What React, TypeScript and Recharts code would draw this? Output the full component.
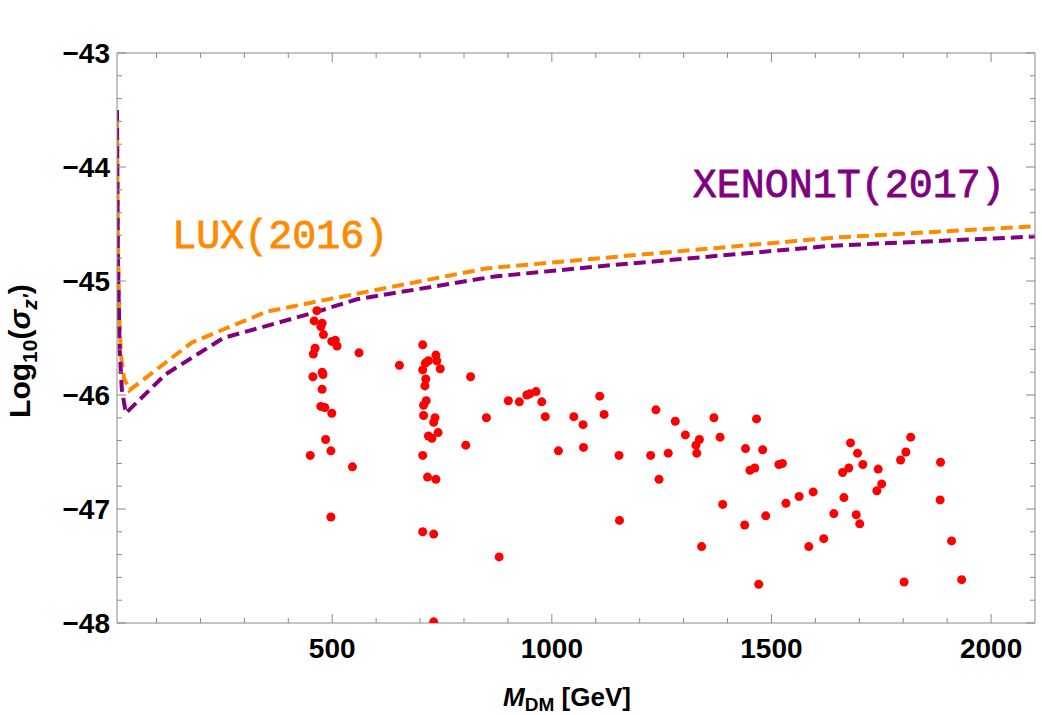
import React from 'react';
import { ComposedChart, Line, Scatter, XAxis, YAxis, Label, ReferenceDot } from 'recharts';

// LUX (2016) exclusion curve
const luxMass = [10, 12, 15, 19, 26, 38, 180, 350, 465, 850, 1110, 1640, 2100];
const luxSigma = [-43.6, -44.6, -45.3, -45.65, -45.85, -45.96, -45.54, -45.27, -45.18, -44.89, -44.8, -44.62, -44.52];

// XENON1T (2017) exclusion curve
const xenonMass = [10, 12, 16, 21, 30, 120, 252, 465, 556, 870, 1110, 1640, 2100];
const xenonSigma = [-43.5, -44.8, -45.6, -45.95, -46.16, -45.82, -45.5, -45.27, -45.16, -44.96, -44.87, -44.69, -44.61];

// scan points
const scanMass = [
  465, 459, 477, 474, 480, 499, 507, 511, 461, 457, 561, 477, 479, 456, 477, 474, 483, 499, 485, 497,
  450, 546, 497, 706, 736, 738, 719, 712, 746, 706, 713, 711, 653, 815, 714, 708, 708, 734, 731, 741,
  719, 727, 706, 804, 851, 717, 736, 706, 731, 880, 731, 901, 926, 943, 950, 964, 977, 985, 1015, 1050,
  1071, 1072, 1109, 1119, 1153, 1154, 1225, 1237, 1244, 1265, 1281, 1304, 1328, 1336, 1330, 1341, 1369, 1383, 1389, 1441,
  1466, 1451, 1462, 1439, 1471, 1480, 1487, 1517, 1525, 1533, 1563, 1595, 1585, 1619, 1642, 1662, 1676, 1665, 1680, 1696,
  1708, 1693, 1701, 1743, 1751, 1740, 1794, 1806, 1817, 1802, 1885, 1884, 1910, 1933,
];
const scanSigma = [
  -45.26, -45.35, -45.37, -45.4, -45.47, -45.53, -45.52, -45.57, -45.59, -45.64, -45.63, -45.8, -45.82, -45.84, -45.95, -46.1, -46.11, -46.16, -46.39, -46.49,
  -46.53, -46.63, -47.07, -45.56, -45.65, -45.7, -45.7, -45.72, -45.77, -45.78, -45.86, -45.92, -45.74, -45.84, -46.05, -46.09, -46.18, -46.2, -46.24, -46.33,
  -46.36, -46.38, -46.53, -46.44, -46.2, -46.72, -46.74, -47.2, -47.22, -47.42, -47.99, -46.05, -46.06, -46.0, -45.99, -45.97, -46.06, -46.19, -46.49, -46.19,
  -46.26, -46.46, -46.01, -46.17, -46.53, -47.1, -46.53, -46.13, -46.74, -46.51, -46.23, -46.35, -46.44, -46.39, -46.51, -47.33, -46.2, -46.37, -46.96, -46.47,
  -46.21, -46.66, -46.64, -47.14, -47.66, -46.48, -47.06, -46.61, -46.6, -46.95, -46.89, -46.85, -47.33, -47.26, -47.04, -46.68, -46.64, -46.9, -46.42, -46.51,
  -46.61, -47.05, -47.13, -46.65, -46.78, -46.84, -46.57, -46.5, -46.37, -47.64, -46.59, -46.92, -47.28, -47.62,
];

// ticks
const xMajorTicks = [500, 1000, 1500, 2000];
const xAllTicks = [100, 200, 300, 400, 500, 600, 700, 800, 900, 1000, 1100, 1200, 1300, 1400, 1500, 1600, 1700, 1800, 1900, 2000];
const yMajorTicks = [-48, -47, -46, -45, -44, -43];
const yAllTicks = [
  -48, -47.8, -47.6, -47.4, -47.2, -47, -46.8, -46.6, -46.4, -46.2, -46, -45.8, -45.6, -45.4, -45.2,
  -45, -44.8, -44.6, -44.4, -44.2, -44, -43.8, -43.6, -43.4, -43.2, -43,
];

// annotation anchors (data coordinates)
const luxLabel = { m: 136, v: -44.71, text: 'LUX(2016)' };
const xenonLabel = { m: 1321, v: -44.26, text: 'XENON1T(2017)' };

const luxData = luxMass.map((m, i) => ({ m, v: luxSigma[i] }));
const xenonData = xenonMass.map((m, i) => ({ m, v: xenonSigma[i] }));
const scanData = scanMass.map((m, i) => ({ m, v: scanSigma[i] }));

const FRAME = '#8a8a8a';
const SANS = '"Liberation Sans", Arial, Helvetica, sans-serif';
const MONO = '"Courier New", "Liberation Mono", monospace';
const ORANGE = '#FF8A00';
const PURPLE = '#800080';

const isMajor = (list: number[], v: number) => list.some((t) => Math.abs(t - v) < 1e-6);
const fmt = (v: number) => (v < 0 ? '\u2212' + Math.abs(v) : String(v));

const BottomTick = (props: any) => {
  const { x, y, payload } = props;
  const major = isMajor(xMajorTicks, payload.value);
  return (
    <g>
      <line x1={x} y1={y} x2={x} y2={y - (major ? 9 : 5)} stroke={FRAME} strokeWidth={1} />
      {major && (
        <text x={x} y={y + 35} textAnchor="middle" fontFamily={SANS} fontWeight="bold" fontSize={28} fill="#000">
          {payload.value}
        </text>
      )}
    </g>
  );
};

const TopTick = (props: any) => {
  const { x, y, payload } = props;
  const major = isMajor(xMajorTicks, payload.value);
  return <line x1={x} y1={y} x2={x} y2={y + (major ? 9 : 5)} stroke={FRAME} strokeWidth={1} />;
};

const LeftTick = (props: any) => {
  const { x, y, payload } = props;
  const major = isMajor(yMajorTicks, payload.value);
  return (
    <g>
      <line x1={x} y1={y} x2={x + (major ? 9 : 5)} y2={y} stroke={FRAME} strokeWidth={1} />
      {major && (
        <text x={x - 7} y={y + 10} textAnchor="end" fontFamily={SANS} fontWeight="bold" fontSize={28} fill="#000">
          {fmt(payload.value)}
        </text>
      )}
    </g>
  );
};

const RightTick = (props: any) => {
  const { x, y, payload } = props;
  const major = isMajor(yMajorTicks, payload.value);
  return <line x1={x} y1={y} x2={x - (major ? 9 : 5)} y2={y} stroke={FRAME} strokeWidth={1} />;
};

const XTitle = (props: any) => {
  const vb = props.viewBox || { x: 117, y: 623, width: 918, height: 92 };
  const cx = vb.x + vb.width / 2 - 9;
  const by = vb.y + 83;
  return (
    <text x={cx} y={by} textAnchor="middle" fontFamily={SANS} fontWeight="bold" fontSize={26} fill="#000">
      <tspan fontStyle="italic">M</tspan>
      <tspan fontSize={19} dy={5}>DM</tspan>
      <tspan dy={-5}> [GeV]</tspan>
    </text>
  );
};

const YTitle = (props: any) => {
  const vb = props.viewBox || { x: 0, y: 53, width: 117, height: 570 };
  const bx = vb.x + 30;
  const cy = vb.y + vb.height / 2 + 13;
  return (
    <text transform={`translate(${bx},${cy}) rotate(-90)`} x={0} y={0} textAnchor="middle" fontFamily={SANS} fontWeight="bold" fontSize={30} fill="#000">
      Log
      <tspan fontSize={21} dy={7}>10</tspan>
      <tspan dy={-7}>(</tspan>
      <tspan fontStyle="italic">σ</tspan>
      <tspan fontSize={21} dy={7} fontStyle="italic">z'</tspan>
      <tspan dy={-7}>)</tspan>
    </text>
  );
};

const Anno = (props: any) => {
  const vb = props.viewBox || { x: 0, y: 0 };
  return (
    <text x={vb.x} y={vb.y} textAnchor="start" fontFamily={MONO} fontWeight="normal" fontSize={40} stroke={props.color} strokeWidth={0.8} fill={props.color}>
      {props.text}
    </text>
  );
};

const RedDot = (props: any) => <circle cx={props.cx} cy={props.cy} r={4.5} fill="#FF0000" />;

export default function App() {
  return (
    <div style={{ position: 'absolute', left: 0, top: 0, width: 1042, height: 715, background: '#fff' }}>
      <ComposedChart width={1042} height={715} margin={{ top: 0, right: 0, bottom: 0, left: 0 }}>
        <XAxis
          xAxisId="b"
          dataKey="m"
          type="number"
          domain={[10, 2100]}
          allowDataOverflow
          orientation="bottom"
          height={92}
          ticks={xAllTicks}
          interval={0}
          tickSize={0}
          tickMargin={0}
          tick={<BottomTick />}
          axisLine={{ stroke: FRAME, strokeWidth: 1 }}
          tickLine={false}
        >
          <Label content={<XTitle />} />
        </XAxis>
        <XAxis
          xAxisId="t"
          dataKey="m"
          type="number"
          domain={[10, 2100]}
          allowDataOverflow
          orientation="top"
          height={53}
          ticks={xAllTicks}
          interval={0}
          tickSize={0}
          tickMargin={0}
          tick={<TopTick />}
          axisLine={{ stroke: FRAME, strokeWidth: 1 }}
          tickLine={false}
        />
        <YAxis
          yAxisId="l"
          dataKey="v"
          type="number"
          domain={[-48, -43]}
          allowDataOverflow
          orientation="left"
          width={117}
          ticks={yAllTicks}
          interval={0}
          tickSize={0}
          tickMargin={0}
          tick={<LeftTick />}
          axisLine={{ stroke: FRAME, strokeWidth: 1 }}
          tickLine={false}
        >
          <Label content={<YTitle />} />
        </YAxis>
        <YAxis
          yAxisId="r"
          dataKey="v"
          type="number"
          domain={[-48, -43]}
          allowDataOverflow
          orientation="right"
          width={7}
          ticks={yAllTicks}
          interval={0}
          tickSize={0}
          tickMargin={0}
          tick={<RightTick />}
          axisLine={{ stroke: FRAME, strokeWidth: 1 }}
          tickLine={false}
        />
        <Scatter
          xAxisId="b"
          yAxisId="l"
          data={scanData}
          dataKey="v"
          shape={<RedDot />}
          isAnimationActive={false}
        />
        <Line
          xAxisId="b"
          yAxisId="l"
          data={luxData}
          dataKey="v"
          type="linear"
          stroke={ORANGE}
          strokeWidth={4}
          strokeDasharray="12 6"
          dot={false}
          activeDot={false}
          isAnimationActive={false}
        />
        <Line
          xAxisId="b"
          yAxisId="l"
          data={xenonData}
          dataKey="v"
          type="linear"
          stroke={PURPLE}
          strokeWidth={4}
          strokeDasharray="12 6"
          dot={false}
          activeDot={false}
          isAnimationActive={false}
        />
        <ReferenceDot
          xAxisId="b"
          yAxisId="l"
          x={luxLabel.m}
          y={luxLabel.v}
          r={0}
          fill="none"
          stroke="none"
          label={<Anno text={luxLabel.text} color={ORANGE} />}
        />
        <ReferenceDot
          xAxisId="b"
          yAxisId="l"
          x={xenonLabel.m}
          y={xenonLabel.v}
          r={0}
          fill="none"
          stroke="none"
          label={<Anno text={xenonLabel.text} color={PURPLE} />}
        />
      </ComposedChart>
    </div>
  );
}
